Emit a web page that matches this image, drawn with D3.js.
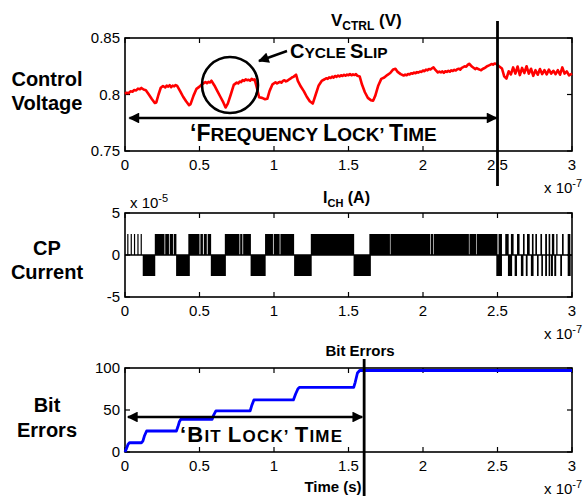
<!DOCTYPE html>
<html><head><meta charset="utf-8">
<script src="https://cdn.jsdelivr.net/npm/d3@7"></script>
<style>
body{margin:0;background:#fff}
svg{display:block}
text{font-family:"Liberation Sans",Arial,Helvetica,sans-serif;fill:#000}
</style>
</head><body>
<svg id="chart" width="585" height="496"></svg>
<script>
// ---------------- data ----------------
const xTicks = [0, 0.5, 1, 1.5, 2, 2.5, 3];
const xTickLabels = ["0", "0.5", "1", "1.5", "2", "2.5", "3"];
const vTicks = [0.75, 0.8, 0.85];
const vTickLabels = ["0.75", "0.8", "0.85"];
const iTicks = [-5, 0, 5];
const iTickLabels = ["-5", "0", "5"];
const bTicks = [0, 50, 100];
const bTickLabels = ["0", "50", "100"];
const rowLabels = [["Control", "Voltage"], ["CP", "Current"], ["Bit", "Errors"]];

// control voltage (time in 1e-7 s, volts)
const vctrlT = [0,0.012,0.025,0.037,0.05,0.062,0.075,0.087,0.10,0.11,0.125,0.14,0.16,0.18,0.20,0.21,0.225,0.24,0.255,0.27,0.28,0.29,0.30,0.31,0.32,0.33,0.34,0.35,
0.37,0.39,0.41,0.43,0.44,0.46,0.48,0.50,0.51,0.52,0.53,0.54,0.55,0.56,0.57,0.58,0.60,0.62,0.64,0.66,0.675,0.69,0.71,0.73,
0.75,0.76,0.77,0.78,0.79,0.80,0.81,0.82,0.83,0.84,0.85,0.86,0.87,0.885,0.90,0.92,0.94,0.955,0.97,0.99,1.01,1.02,1.03,1.04,1.05,1.06,1.07,1.08,1.09,1.10,1.11,
1.12,1.13,1.148,1.16,1.18,1.20,1.22,1.24,1.26,1.28,1.30,1.32,1.34,1.35,1.36,1.37,1.38,1.39,1.40,1.41,1.42,1.43,1.44,1.45,1.46,1.47,1.48,1.49,1.50,
1.51,1.52,1.53,1.54,1.55,1.56,1.575,1.59,1.61,1.63,1.65,1.665,1.68,1.70,1.72,1.74,1.76,1.78,1.80,1.815,1.83,1.85,1.87,
1.88,1.89,1.90,1.91,1.92,1.93,1.94,1.95,1.96,1.97,1.98,1.99,2.00,2.01,2.02,2.03,2.04,2.05,2.06,2.07,2.085,2.10,2.11,2.12,2.13,2.14,2.15,2.16,2.17,2.18,2.19,2.20,2.21,2.22,2.23,2.24,2.25,2.26,
2.27,2.28,2.29,2.30,2.31,2.33,2.35,2.36,2.37,2.38,2.39,2.40,2.41,2.42,2.43,2.44,2.45,2.46,2.47,2.48,2.49,2.51,2.53,2.545,2.56,2.575,2.59,2.605,2.62,
2.635,2.65,2.665,2.68,2.695,2.71,2.725,2.74,2.755,2.77,2.785,2.80,2.815,2.83,2.845,2.86,2.875,2.89,2.905,2.92,
2.935,2.95,2.965,2.98,3.00];
const vctrlV = [0.8006,0.8016,0.8012,0.8028,0.8024,0.8040,0.8036,0.8052,0.8046,0.8058,0.8044,0.8038,0.8000,0.7960,0.7925,0.7930,0.8000,0.8060,0.8075,0.8062,0.8078,0.8070,0.8082,0.8065,0.8078,0.8072,0.8084,0.8076,
0.8030,0.7980,0.7940,0.7905,0.7915,0.7990,0.8050,0.8070,0.8082,0.8092,0.8102,0.8110,0.8100,0.8112,0.8106,0.8122,0.8080,0.8030,0.7980,0.7930,0.7885,0.7920,0.8000,0.8085,
0.8105,0.8098,0.8115,0.8110,0.8128,0.8120,0.8135,0.8126,0.8130,0.8122,0.8138,0.8128,0.8134,0.8060,0.7975,0.7970,0.7958,0.7962,0.8030,0.8090,0.8108,0.8098,0.8106,0.8112,0.8104,0.8120,0.8126,0.8116,0.8122,0.8132,0.8140,
0.8150,0.8156,0.8175,0.8120,0.8070,0.8030,0.7980,0.7940,0.7920,0.8000,0.8080,0.8120,0.8135,0.8144,0.8138,0.8152,0.8146,0.8158,0.8150,0.8164,0.8156,0.8168,0.8160,0.8170,0.8164,0.8174,0.8166,0.8176,0.8170,
0.8180,0.8170,0.8178,0.8172,0.8180,0.8165,0.8160,0.8090,0.8020,0.7970,0.7950,0.7945,0.7990,0.8080,0.8138,0.8150,0.8172,0.8190,0.8222,0.8228,0.8200,0.8180,0.8168,
0.8176,0.8170,0.8182,0.8178,0.8188,0.8184,0.8194,0.8188,0.8198,0.8194,0.8204,0.8200,0.8212,0.8206,0.8220,0.8214,0.8226,0.8222,0.8232,0.8240,0.8215,0.8195,0.8202,0.8196,0.8204,0.8192,0.8206,0.8200,0.8210,0.8202,0.8214,0.8208,0.8218,0.8212,0.8224,0.8228,0.8220,0.8236,
0.8242,0.8250,0.8246,0.8262,0.8272,0.8245,0.8225,0.8234,0.8226,0.8220,0.8215,0.8226,0.8232,0.8240,0.8250,0.8256,0.8262,0.8270,0.8264,0.8274,0.8272,0.8250,0.8230,0.8160,0.8140,0.8205,0.8178,0.8240,0.8185,
0.8248,0.8172,0.8235,0.8190,0.8250,0.8185,0.8228,0.8165,0.8215,0.8175,0.8225,0.8180,0.8215,0.8178,0.8220,0.8185,0.8210,0.8180,0.8215,0.8175,
0.8240,0.8185,0.8205,0.8170,0.8185];

// charge-pump current pulses (time in 1e-7 s, current in 1e-5 A)
const cpStart = [0.015,0.038,0.060,0.083,0.105, 0.119, 0.200,0.270,0.300,0.327, 0.343, 0.425,0.506,0.529,0.555, 0.576,
0.670,0.773,0.793, 0.843, 0.940,0.998,1.043, 1.135, 1.247, 1.534, 1.640,1.782,2.052,2.072,2.312,2.362,
2.507,2.552,2.590,2.631,2.671,2.698,2.731,2.754,2.788,2.820,2.843,2.865,2.894,2.933,2.971,
2.492,2.570,2.615,2.657,2.690,2.724,2.765,2.794,2.820,2.843,2.859,2.881,2.921,2.971];
const cpEnd = [0.022,0.045,0.067,0.090,0.112, 0.203, 0.265,0.295,0.322,0.345, 0.435, 0.500,0.523,0.549,0.578, 0.677,
0.768,0.788,0.845, 0.944, 0.993,1.038,1.135, 1.253, 1.538, 1.650, 1.778,2.048,2.068,2.308,2.358,2.500,
2.530,2.575,2.608,2.648,2.682,2.716,2.742,2.765,2.799,2.832,2.854,2.881,2.903,2.944,2.989,
2.530,2.598,2.631,2.674,2.702,2.742,2.776,2.805,2.832,2.854,2.872,2.894,2.933,2.991];
const cpLevel = [2.5,2.5,2.5,2.5,2.5, -2.5, 2.5,2.5,2.5,2.5, -2.5, 2.5,2.5,2.5,2.5, -2.5,
2.5,2.5,2.5, -2.5, 2.5,2.5,2.5, -2.5, 2.5, -2.5, 2.5,2.5,2.5,2.5,2.5,2.5,
2.5,2.5,2.5,2.5,2.5,2.5,2.5,2.5,2.5,2.5,2.5,2.5,2.5,2.5,2.5,
-2.5,-2.5,-2.5,-2.5,-2.5,-2.5,-2.5,-2.5,-2.5,-2.5,-2.5,-2.5,-2.5,-2.5];

// cumulative bit errors
const berT = [0,0.010,0.020,0.030,0.110,0.120,0.130,0.145,0.345,0.355,0.365,0.375,0.585,0.595,0.610,0.840,0.850,0.865,1.130,1.145,1.160,1.170,1.535,1.545,1.560,1.575,3.0];
const berN = [0,4,9,11,11,13,19,25,25,30,36,39,39,44,49,49,55,62,62,69,75,77,77,83,94,97,97];

const freqLockT = 2.5, bitLockT = 1.605;

// ---------------- drawing ----------------
const svg = d3.select("#chart");
const X0 = 125, X1 = 572;
const x = d3.scaleLinear().domain([0, 3]).range([X0, X1]);
const yV = d3.scaleLinear().domain([0.75, 0.85]).range([151, 38]);
const yI = d3.scaleLinear().domain([-5, 5]).range([297, 213]);
const yB = d3.scaleLinear().domain([0, 100]).range([452, 368]);

const defs = svg.append("defs");
defs.append("marker").attr("id", "ah").attr("viewBox", "0 0 10 10")
  .attr("refX", 9).attr("refY", 5).attr("markerWidth", 5).attr("markerHeight", 4.5)
  .attr("markerUnits", "strokeWidth").attr("orient", "auto-start-reverse")
  .append("path").attr("d", "M0,0 L10,5 L0,10 Z").attr("fill", "#000");

function panel(y, ticks, labels) {
  const g = svg.append("g");
  const [yb, yt] = y.range();
  const T = 5;
  xTicks.forEach(t => {
    g.append("line").attr("x1", x(t)).attr("x2", x(t)).attr("y1", yb).attr("y2", yb - T).attr("stroke", "#000").attr("stroke-width", 1.2);
    g.append("line").attr("x1", x(t)).attr("x2", x(t)).attr("y1", yt).attr("y2", yt + T).attr("stroke", "#000").attr("stroke-width", 1.2);
  });
  ticks.forEach(v => {
    g.append("line").attr("x1", X0).attr("x2", X0 + T).attr("y1", y(v)).attr("y2", y(v)).attr("stroke", "#000").attr("stroke-width", 1.2);
    g.append("line").attr("x1", X1).attr("x2", X1 - T).attr("y1", y(v)).attr("y2", y(v)).attr("stroke", "#000").attr("stroke-width", 1.2);
  });
  g.append("rect").attr("x", X0).attr("y", yt).attr("width", X1 - X0).attr("height", yb - yt)
    .attr("fill", "none").attr("stroke", "#000").attr("stroke-width", 1.6);
  xTicks.forEach((t, i) => {
    g.append("text").attr("x", x(t)).attr("y", yb + 19).attr("text-anchor", "middle")
      .attr("font-size", 15).text(xTickLabels[i]);
  });
  ticks.forEach((v, i) => {
    g.append("text").attr("x", X0 - 5).attr("y", y(v) + 5).attr("text-anchor", "end")
      .attr("font-size", 15).text(labels[i]);
  });
  const e = g.append("text").attr("x", 544).attr("y", yb + 42).attr("font-size", 15);
  e.append("tspan").text("x 10");
  e.append("tspan").attr("dy", -6).attr("font-size", 11).text("-7");
  return g;
}

// ---------- panel 1: control voltage ----------
panel(yV, vTicks, vTickLabels);
const vData = vctrlT.map((t, i) => [t, vctrlV[i]]);
svg.append("path").datum(vData)
  .attr("d", d3.line().x(d => x(d[0])).y(d => yV(d[1])))
  .attr("fill", "none").attr("stroke", "#ff0000").attr("stroke-width", 2.6).attr("stroke-linejoin", "round");

const t1 = svg.append("text").attr("x", 331).attr("y", 26).attr("font-size", 17).attr("font-weight", "bold");
t1.append("tspan").text("V");
t1.append("tspan").attr("dy", 4).attr("font-size", 12).text("CTRL");
t1.append("tspan").attr("dy", -4).text(" (V)");

svg.append("circle").attr("cx", 230).attr("cy", 85).attr("r", 28)
  .attr("fill", "none").attr("stroke", "#000").attr("stroke-width", 2.6);
svg.append("line").attr("x1", 287).attr("y1", 51).attr("x2", 259).attr("y2", 61)
  .attr("stroke", "#000").attr("stroke-width", 2.4).attr("marker-end", "url(#ah)");
const cs = svg.append("text").attr("x", 290).attr("y", 58).attr("font-weight", "bold");
cs.append("tspan").attr("font-size", 20).text("C");
cs.append("tspan").attr("font-size", 15.5).text("YCLE ");
cs.append("tspan").attr("font-size", 20).text("S");
cs.append("tspan").attr("font-size", 15.5).text("LIP");

svg.append("line").attr("x1", x(0.03)).attr("x2", x(freqLockT) - 1).attr("y1", 118).attr("y2", 118)
  .attr("stroke", "#000").attr("stroke-width", 2.4)
  .attr("marker-start", "url(#ah)").attr("marker-end", "url(#ah)");
const fl = svg.append("text").attr("x", 190).attr("y", 141).attr("font-weight", "bold");
[["\u2018F", 23], ["REQUENCY ", 19], ["L", 23], ["OCK\u2019 ", 19], ["T", 23], ["IME", 19]]
  .forEach(([s, f]) => fl.append("tspan").attr("font-size", f).text(s));

svg.append("line").attr("x1", x(freqLockT)).attr("x2", x(freqLockT)).attr("y1", 21).attr("y2", 186)
  .attr("stroke", "#000").attr("stroke-width", 2.8);

// ---------- panel 2: CP current ----------
panel(yI, iTicks, iTickLabels);
const cpData = cpStart.map((s, i) => ({ s, e: cpEnd[i], v: cpLevel[i] }));
svg.append("g").selectAll("rect").data(cpData).join("rect")
  .attr("x", d => x(d.s)).attr("width", d => Math.max(1.2, x(d.e) - x(d.s)))
  .attr("y", d => Math.min(yI(0), yI(d.v))).attr("height", d => Math.abs(yI(d.v) - yI(0)))
  .attr("fill", "#000");
svg.append("line").attr("x1", x(0)).attr("x2", x(3)).attr("y1", yI(0)).attr("y2", yI(0))
  .attr("stroke", "#000").attr("stroke-width", 1.5);
const t2 = svg.append("text").attr("x", 323).attr("y", 203).attr("font-size", 16).attr("font-weight", "bold");
t2.append("tspan").text("I");
t2.append("tspan").attr("dy", 4).attr("font-size", 11).text("CH");
t2.append("tspan").attr("dy", -4).text("  (A)");
const e5 = svg.append("text").attr("x", 130).attr("y", 208).attr("font-size", 15);
e5.append("tspan").text("x 10");
e5.append("tspan").attr("dy", -6).attr("font-size", 11).text("-5");

// ---------- panel 3: bit errors ----------
panel(yB, bTicks, bTickLabels);
const bData = berT.map((t, i) => [t, berN[i]]);
svg.append("path").datum(bData)
  .attr("d", d3.line().x(d => x(d[0])).y(d => yB(d[1])))
  .attr("fill", "none").attr("stroke", "#0000ff").attr("stroke-width", 2.8).attr("stroke-linejoin", "round");
svg.append("text").attr("x", 360).attr("y", 356).attr("text-anchor", "middle")
  .attr("font-size", 15).attr("font-weight", "bold").text("Bit Errors");
svg.append("text").attr("x", 333).attr("y", 492).attr("text-anchor", "middle")
  .attr("font-size", 15).attr("font-weight", "bold").text("Time (s)");
svg.append("line").attr("x1", x(0.02)).attr("x2", x(bitLockT) - 2).attr("y1", 417).attr("y2", 417)
  .attr("stroke", "#000").attr("stroke-width", 2.4)
  .attr("marker-start", "url(#ah)").attr("marker-end", "url(#ah)");
const bl = svg.append("text").attr("x", 180).attr("y", 442).attr("font-weight", "bold").attr("letter-spacing", 1.2);
[["\u2018B", 22], ["IT ", 17], ["L", 22], ["OCK\u2019 ", 17], ["T", 22], ["IME", 17]]
  .forEach(([s, f]) => bl.append("tspan").attr("font-size", f).text(s));
svg.append("line").attr("x1", x(bitLockT)).attr("x2", x(bitLockT)).attr("y1", 359).attr("y2", 496)
  .attr("stroke", "#000").attr("stroke-width", 2.8);

// ---------- row labels ----------
const rowY = [[86, 110], [255, 279], [412, 437]];
rowLabels.forEach((lines, r) => {
  lines.forEach((s, j) => {
    svg.append("text").attr("x", 47).attr("y", rowY[r][j]).attr("text-anchor", "middle")
      .attr("font-size", 20).attr("font-weight", "bold").text(s);
  });
});
</script>
</body></html>
